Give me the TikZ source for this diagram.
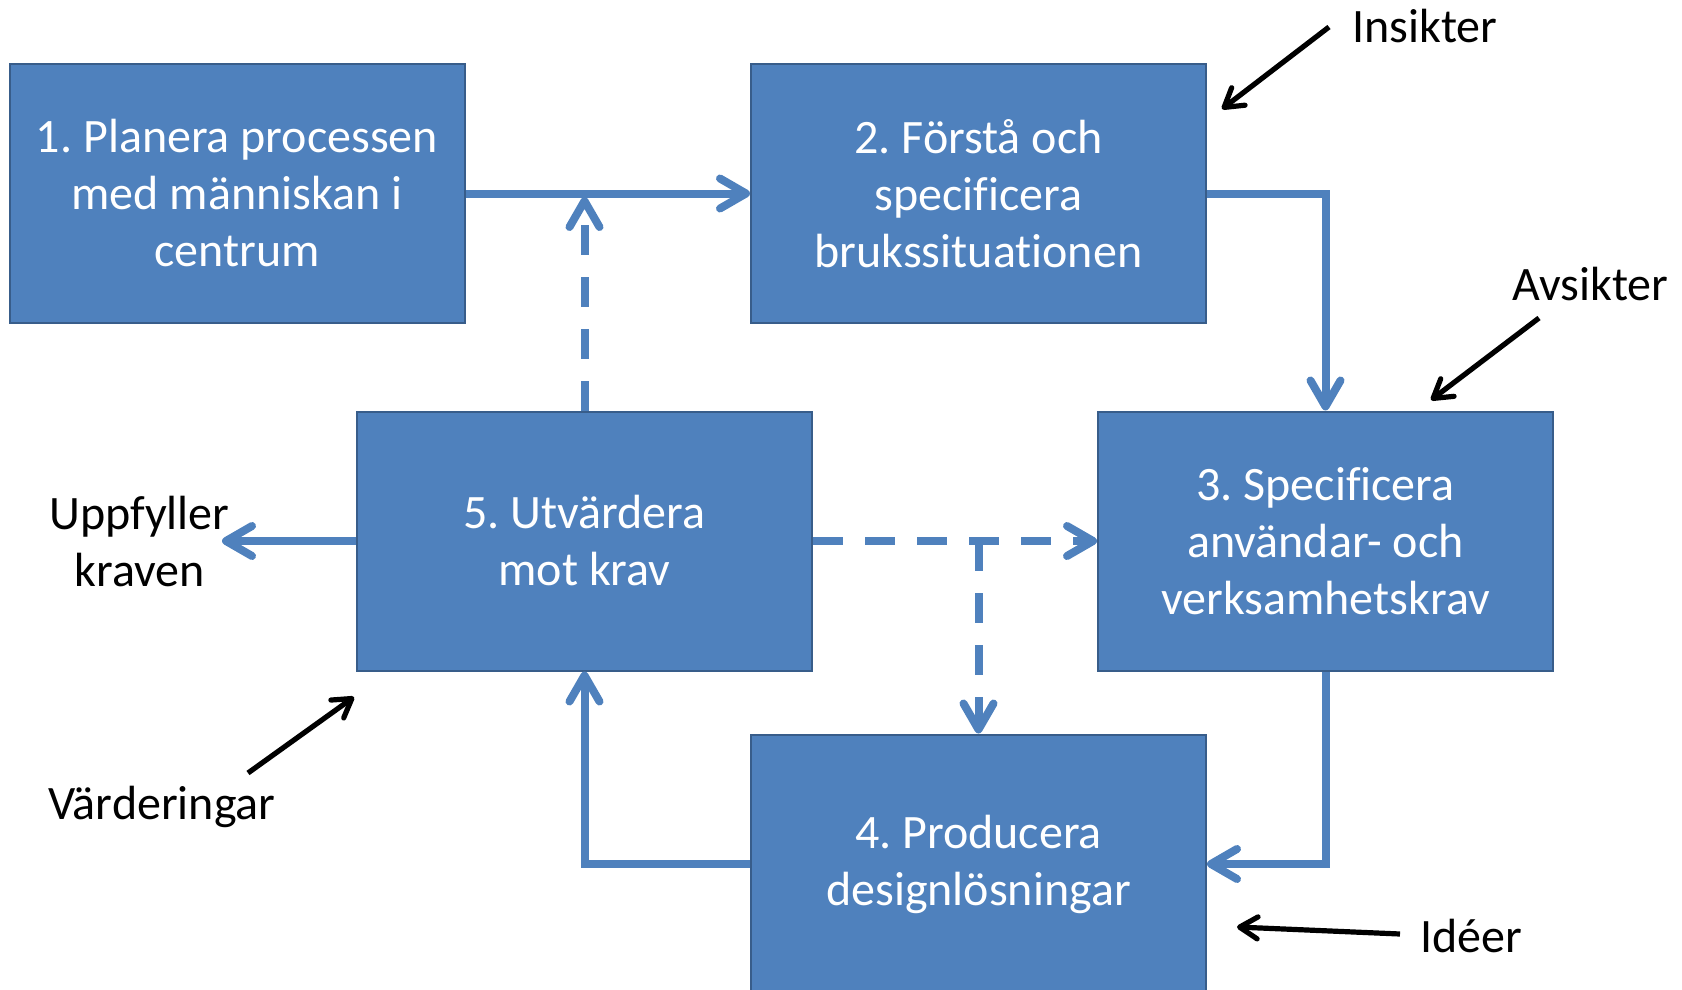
\documentclass[tikz,border=0pt]{standalone}
\usepackage{fontspec}
\setmainfont[Ligatures=NoCommon]{Carlito}
\usetikzlibrary{arrows.meta}
\definecolor{boxblue}{HTML}{4F81BD}
\definecolor{boxedge}{HTML}{385D8A}
\frenchspacing
\begin{document}
\begin{tikzpicture}[x=0.5pt,y=-0.5pt,
  stepbox/.style={draw=boxedge, line width=1pt, fill=boxblue, text=white,
    minimum width=227.5pt, minimum height=129.5pt, inner sep=0pt, align=center,
    font=\fontsize{24}{28.5}\selectfont},
  flow/.style={draw=boxblue, line width=4pt,
    -{Straight Barb[round, length=13pt, width=15pt]}},
  loop/.style={flow, dash pattern=on 15pt off 11pt},
  label/.style={inner sep=0pt, font=\fontsize{24}{28.5}\selectfont, align=center},
  note/.style={draw=black, line width=2.6pt,
    -{Straight Barb[round, length=9pt, width=11pt]}}
]
\useasboundingbox (0,0) rectangle (1682,990);

% process steps
\node[stepbox] (b1) at (237,193.5) {1. Planera processen\\med människan i\\centrum};
\node[stepbox] (b2) at (978.5,193.5) {2. Förstå och\\specificera\\brukssituationen};
\node[stepbox] (b3) at (1325.5,541) {3. Specificera\\användar- och\\verksamhetskrav};
\node[stepbox] (b4) at (978.5,864) {4. Producera\\designlösningar};
\node[stepbox] (b5) at (584.5,541) {5. Utvärdera\\mot krav};

% main cycle
\draw[flow] (b1.east) -- (b2.west);
\draw[flow] (b2.east) -| (b3.north);
\draw[flow] (b3.south) |- (b4.east);
\draw[flow] (b4.west) -| (b5.south);

% outcome of the evaluation
\node[label] (ok) at (139.5,542) {Uppfyller\\kraven};
\coordinate (okin) at (222,541);
\draw[flow] (b5.west) -- (okin);

% iterations back from the evaluation
\coordinate (j1) at (584.5,197);
\draw[loop] (b5.north) -- (j1);
\draw[loop] (b5.east) -- (b3.west);
\coordinate (j2) at (978.5,541);
\draw[loop] (j2) -- (b4.north);

% inputs to the steps
\node[label, anchor=base west] (ins) at (1352,43) {Insikter};
\coordinate (insA) at (1329,27);
\coordinate (insB) at (1222,109);
\draw[note] (insA) -- (insB);

\node[label, anchor=base west] (avs) at (1512,300) {Avsikter};
\coordinate (avsA) at (1539,318);
\coordinate (avsB) at (1431,400);
\draw[note] (avsA) -- (avsB);

\node[label, anchor=base west] (vard) at (48,819) {Värderingar};
\coordinate (vardA) at (248,773);
\coordinate (vardB) at (354,697);
\draw[note] (vardA) -- (vardB);

\node[label, anchor=base west] (ide) at (1420,952) {Idéer};
\coordinate (ideA) at (1400,934);
\coordinate (ideB) at (1237,927);
\draw[note] (ideA) -- (ideB);
\end{tikzpicture}
\end{document}
